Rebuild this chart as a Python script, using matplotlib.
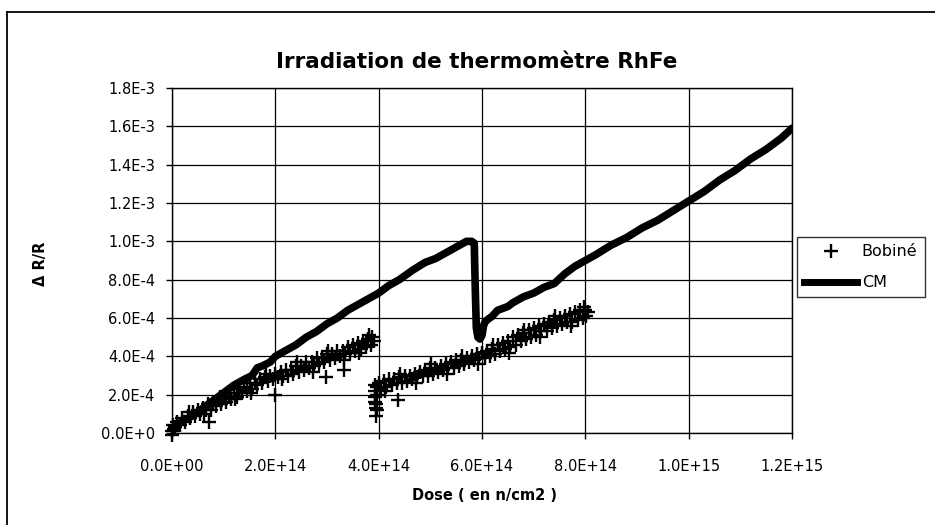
import matplotlib
matplotlib.use("Agg")
import matplotlib.pyplot as plt
from matplotlib.lines import Line2D

plt.rcParams['font.family'] = ['DejaVu Sans']

# ---- data (x in units of 1E+14 n/cm2, y in units of 1E-4) ----
bob_x = [0.00, 0.02, 0.05, 0.10, 0.15, 0.20, 0.25, 0.30, 0.35, 0.40, 0.45, 0.50, 0.55, 0.60, 0.65,
         0.70, 0.75, 0.80, 0.85, 0.90, 0.95, 1.00, 1.05, 1.10, 1.15, 1.20, 1.25, 1.30, 1.35, 1.40,
         1.45, 1.50, 1.55, 1.60, 1.65, 1.70, 1.75, 1.80, 1.85, 1.90, 1.95, 2.00, 2.05, 2.10, 2.15,
         2.20, 2.25, 2.30, 2.35, 2.40, 2.45, 2.50, 2.55, 2.60, 2.65, 2.70, 2.75, 2.80, 2.85, 2.90,
         2.95, 3.00, 3.05, 3.10, 3.15, 3.20, 3.25, 3.30, 3.35, 3.40, 3.45, 3.50, 3.55, 3.60, 3.65,
         3.70, 3.75, 3.80, 3.85, 3.88, 3.90,
         0.72, 1.99, 2.99, 3.33, 0.00, 0.03,
         3.92, 3.92, 3.93, 3.93, 3.94, 3.94, 3.95, 3.96, 3.96, 3.97,
         4.00, 4.05, 4.10, 4.15, 4.20, 4.25, 4.30, 4.35, 4.40, 4.45, 4.50, 4.55, 4.60, 4.65, 4.70,
         4.75, 4.80, 4.85, 4.90, 4.95, 5.00, 5.05, 5.10, 5.15, 5.20, 5.25, 5.30, 5.35, 5.40, 5.45,
         5.50, 5.55, 5.60, 5.65, 5.70, 5.75, 5.80, 5.85, 5.90, 5.95, 6.00, 6.05, 6.10, 6.15, 6.20,
         6.25, 6.30, 6.35, 6.40, 6.45, 6.50, 6.55, 6.60, 6.65, 6.70, 6.75, 6.80, 6.85, 6.90, 6.95,
         7.00, 7.05, 7.10, 7.15, 7.20, 7.25, 7.30, 7.35, 7.40, 7.45, 7.50, 7.55, 7.60, 7.65, 7.70,
         7.75, 7.80, 7.85, 7.90, 7.95, 8.00, 8.02, 8.05,
         4.37,
         0.32, 0.62, 0.92, 1.22, 1.52, 1.82, 2.12, 2.42, 2.72, 3.02, 3.32, 3.62, 3.82,
         4.12, 4.42, 4.72, 5.02, 5.32, 5.62, 5.92, 6.22, 6.52, 6.82, 7.12, 7.42, 7.72, 7.98]
bob_y = [0.1, 0.4, 0.3, 0.6, 0.4, 0.8, 0.6, 0.9, 0.8, 1.1, 0.9, 1.2, 1.0, 1.3, 1.2,
         1.5, 1.2, 1.6, 1.4, 1.7, 1.5, 1.9, 1.6, 1.9, 1.8, 2.1, 1.9, 2.3, 2.1, 2.4,
         2.2, 2.6, 2.3, 2.6, 2.5, 2.8, 2.6, 2.9, 2.7, 3.0, 2.8, 3.1, 2.9, 3.2, 3.0,
         3.3, 3.0, 3.3, 3.1, 3.5, 3.2, 3.5, 3.3, 3.7, 3.4, 3.7, 3.5, 3.9, 3.6, 3.9,
         3.7, 4.1, 3.8, 4.1, 3.9, 4.3, 4.0, 4.3, 4.1, 4.5, 4.2, 4.6, 4.3, 4.7, 4.4,
         4.8, 4.5, 4.9, 4.6, 5.0, 4.8,
         0.6, 2.0, 2.9, 3.3, -0.1, 0.2,
         2.5, 2.2, 1.9, 1.6, 1.3, 0.9, 1.5, 2.0, 2.4, 1.2,
         2.6, 2.3, 2.7, 2.4, 2.8, 2.5, 2.8, 2.6, 2.9, 2.6, 3.0, 2.7, 3.0, 2.8, 3.1,
         2.9, 3.2, 3.0, 3.3, 3.0, 3.4, 3.1, 3.4, 3.2, 3.5, 3.3, 3.6, 3.4, 3.7, 3.4,
         3.8, 3.5, 3.8, 3.6, 3.9, 3.7, 4.0, 3.8, 4.1, 3.9, 4.2, 3.9, 4.3, 4.0, 4.4,
         4.1, 4.6, 4.3, 4.7, 4.4, 4.8, 4.5, 5.0, 4.6, 5.1, 4.8, 5.2, 4.9, 5.4, 5.0,
         5.5, 5.1, 5.6, 5.3, 5.7, 5.3, 5.8, 5.5, 5.9, 5.6, 6.0, 5.7, 6.1, 5.8, 6.2,
         5.8, 6.3, 5.9, 6.4, 6.0, 6.4, 6.1, 6.3,
         1.7,
         1.1, 1.0, 1.9, 1.8, 2.1, 3.1, 2.8, 3.7, 3.2, 4.3, 3.8, 4.2, 5.1,
         2.2, 3.1, 2.6, 3.6, 3.1, 4.0, 3.6, 4.6, 4.2, 5.4, 5.0, 6.1, 5.6, 6.6]

cm_x = [0.00, 0.05, 0.2, 0.4, 0.6, 0.8, 1.0, 1.2, 1.4, 1.55, 1.65, 1.75, 1.9, 2.0, 2.2, 2.4,
        2.6, 2.8, 3.0, 3.2, 3.4, 3.6, 3.8, 4.0, 4.2, 4.4, 4.66, 4.9, 5.1, 5.3, 5.5, 5.7, 5.8,
        5.85, 5.87, 5.89, 5.92, 5.96, 6.00, 6.03, 6.06, 6.1, 6.2, 6.3, 6.4, 6.5, 6.6, 6.8, 7.0,
        7.2, 7.4, 7.6, 7.8, 8.0, 8.2, 8.5, 8.8, 9.1, 9.4, 9.7, 10.0, 10.3, 10.6, 10.9, 11.2,
        11.5, 11.8, 12.0]
cm_y = [0.2, 0.3, 0.6, 0.9, 1.3, 1.7, 2.1, 2.5, 2.8, 3.0, 3.4, 3.5, 3.7, 4.0, 4.3, 4.6,
        5.0, 5.3, 5.7, 6.0, 6.4, 6.7, 7.0, 7.3, 7.7, 8.0, 8.5, 8.9, 9.1, 9.4, 9.7, 10.0, 10.0,
        9.9, 7.5, 5.5, 5.0, 4.9, 5.1, 5.6, 5.8, 5.9, 6.1, 6.4, 6.5, 6.6, 6.8, 7.1, 7.3,
        7.6, 7.8, 8.3, 8.7, 9.0, 9.3, 9.8, 10.2, 10.7, 11.1, 11.6, 12.1, 12.6, 13.2, 13.7, 14.3,
        14.8, 15.4, 15.9]

x_ticks = [0, 2, 4, 6, 8, 10, 12]
x_tick_labels = ["0.0E+00", "2.0E+14", "4.0E+14", "6.0E+14", "8.0E+14", "1.0E+15", "1.2E+15"]
y_ticks = [0, 2, 4, 6, 8, 10, 12, 14, 16, 18]
y_tick_labels = ["0.0E+0", "2.0E-4", "4.0E-4", "6.0E-4", "8.0E-4", "1.0E-3",
                 "1.2E-3", "1.4E-3", "1.6E-3", "1.8E-3"]

title = "Irradiation de thermomètre RhFe"
x_label = "Dose ( en n/cm2 )"
y_label = "Δ R/R"
series_names = ["Bobiné", "CM"]

# ---- figure ----
W, H = 935, 525
fig = plt.figure(figsize=(W / 100, H / 100), dpi=100)
ax = fig.add_axes([172 / W, 1 - 433 / H, (792 - 172) / W, (433 - 88) / H])

ax.plot(cm_x, cm_y, color="black", lw=5.5, solid_capstyle="round",
        solid_joinstyle="round", zorder=3)
ax.plot(bob_x, bob_y, ls="none", marker="+", ms=10, mew=1.7, color="black",
        zorder=4, clip_on=False)

ax.set_xlim(0, 12)
ax.set_ylim(0, 18)
ax.set_xticks(x_ticks)
ax.set_xticklabels(x_tick_labels)
ax.set_yticks(y_ticks)
ax.set_yticklabels(y_tick_labels)
ax.tick_params(axis="x", length=4, width=1, pad=15, labelsize=10.5, direction="out")
ax.tick_params(axis="y", length=4, width=1, pad=8, labelsize=10.5, direction="out")
ax.grid(True, color="black", lw=0.9)
ax.set_axisbelow(True)
for s in ax.spines.values():
    s.set_color("black")
    s.set_linewidth(1.0)

fig.text(477 / W, 1 - 62 / H, title, ha="center", va="center",
         fontsize=15.5, fontweight="bold")
fig.text(485 / W, 1 - 495 / H, x_label, ha="center", va="center",
         fontsize=10.5, fontweight="bold")
fig.text(40 / W, 1 - 264 / H, y_label, ha="center", va="center", rotation=90,
         fontsize=10.5, fontweight="bold")

handles = [Line2D([], [], ls="none", marker="+", ms=10, mew=1.7, color="black"),
           Line2D([], [], color="black", lw=5)]
leg = fig.legend(handles, series_names, loc="upper left",
                 bbox_to_anchor=(797 / W, 1 - 237 / H), fontsize=11.5,
                 frameon=True, fancybox=False, shadow=False, borderpad=0.45,
                 labelspacing=1.0, handlelength=3.3, handletextpad=0.3,
                 borderaxespad=0)
leg.get_frame().set_edgecolor("black")
leg.get_frame().set_linewidth(1.0)

# outer chart border (left and top visible)
fig.add_artist(Line2D([7 / W, 7 / W], [0, 1 - 12 / H], transform=fig.transFigure,
                      color="black", lw=1.3))
fig.add_artist(Line2D([7 / W, 1], [1 - 12 / H, 1 - 12 / H], transform=fig.transFigure,
                      color="black", lw=1.3))

fig.savefig("out.png", dpi=100, facecolor="white")
